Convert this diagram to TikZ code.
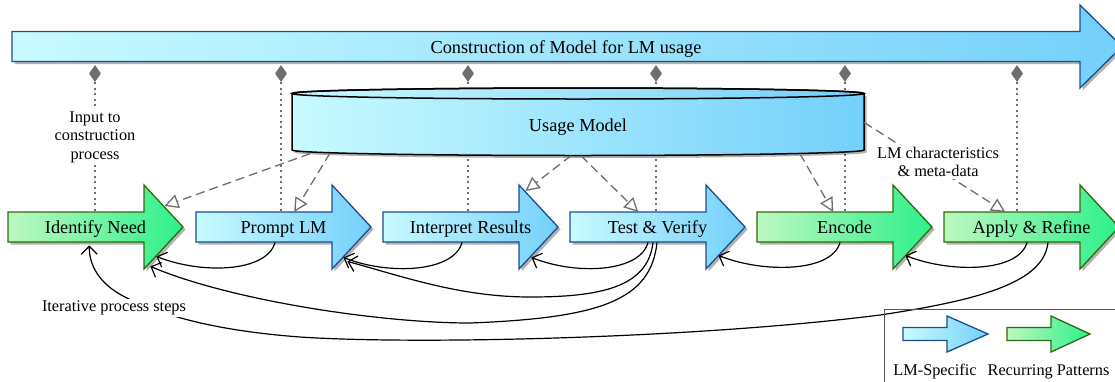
\documentclass[tikz,border=0pt]{standalone}
\usepackage{fontspec}
\setmainfont{Liberation Serif}
\usetikzlibrary{arrows.meta,calc,shadows,shapes.geometric}
\definecolor{blueL}{HTML}{C8FAFF}
\definecolor{blueR}{HTML}{74D0FA}
\definecolor{blueB}{HTML}{1B4E8E}
\definecolor{greenL}{HTML}{BDF8C0}
\definecolor{greenR}{HTML}{2DF08A}
\definecolor{greenB}{HTML}{2E6A10}
\definecolor{conn}{HTML}{6E6E6E}
\definecolor{legbox}{HTML}{555555}
\tikzset{
 shd/.style={drop shadow={shadow xshift=2.5pt,shadow yshift=-2.5pt,opacity=0.3,fill=black}},
 lmflat/.style={draw=blueB,line width=1.3pt,left color=blueL,right color=blueR},
 recflat/.style={draw=greenB,line width=1.3pt,left color=greenL,right color=greenR},
 lmarrow/.style={lmflat,shd},
 recarrow/.style={recflat,shd},
 bigtxt/.style={font=\fontsize{18.3}{22}\selectfont, inner sep=0pt},
 smalltxt/.style={font=\fontsize{16.3}{18.4}\selectfont, fill=white, inner sep=2pt},
 bodyanchor/.style={inner sep=0pt, minimum width=136pt, minimum height=30pt},
 diam/.style={diamond, fill=conn, draw=none, inner sep=0pt, minimum width=12pt, minimum height=17pt},
 dotline/.style={conn, line width=1.3pt, dash pattern=on 2pt off 3.5pt},
 dashline/.style={conn, line width=1.3pt, dash pattern=on 9pt off 5pt, -{Triangle[open,length=14pt,width=14pt]}},
 iter/.style={black, line width=1.2pt, -{Straight Barb[length=8pt,width=16pt]}},
}
\newcommand\procstep[4]{%
  \path[#3] (#2,212) -- ++(136,0) -- ++(0,-27) -- ++(39,42) -- ++(-39,42) -- ++(0,-27) -- ++(-136,0) -- cycle;
  \node[bodyanchor, anchor=north west] (#1) at (#2,212) {};
  \node[bigtxt, anchor=base] (#1-t) at (#2+87.5,233.5) {#4};
}
\begin{document}
\begin{tikzpicture}[x=1pt,y=-1pt]
\useasboundingbox (0,0) rectangle (1115,381);
% top arrow
\path[lmarrow] (12,31.5) -- (1080,31.5) -- (1080,5) -- (1122,46.5) -- (1080,88) -- (1080,61.5) -- (12,61.5) -- cycle;
\node[bigtxt, anchor=base] (cons) at (566,53.3) {Construction of Model for LM usage};
% diamonds
\node[diam] (d1) at (95,73.5) {};
\node[diam] (d2) at (281,73.5) {};
\node[diam] (d3) at (468,73.5) {};
\node[diam] (d4) at (656,73.5) {};
\node[diam] (d5) at (845,73.5) {};
\node[diam] (d6) at (1017,73.5) {};
% step arrows
\procstep{idn}{8}{recarrow}{Identify Need}
\procstep{prl}{196}{lmarrow}{Prompt LM}
\procstep{itr}{383}{lmarrow}{Interpret Results}
\procstep{tst}{570}{lmarrow}{Test \& Verify}
\procstep{enc}{757}{recarrow}{Encode}
\procstep{app}{944}{recarrow}{Apply \& Refine}
% dotted lines
\draw[dotline] (d1.south) -- (d1.south |- idn.north);
\draw[dotline] (d2.south) -- (d2.south |- prl.north);
\draw[dotline] (d3.south) -- (d3.south |- itr.north);
\draw[dotline] (d4.south) -- (d4.south |- tst.north);
\draw[dotline] (d5.south) -- (d5.south |- enc.north);
\draw[dotline] (d6.south) -- (d6.south |- app.north);
% cylinder
\path[draw=black, line width=1.5pt, left color=blueL, right color=blueR, shd]
  (292,93.5) -- (292,150) arc[start angle=180, end angle=0, x radius=286, y radius=5.5]
  -- (864,93.5) arc[start angle=360, end angle=180, x radius=286, y radius=5.5] -- cycle;
\draw[line width=1.5pt, black] (578,93.5) ellipse [x radius=286, y radius=5.5];
\node[inner sep=0pt, minimum width=572pt, minimum height=62pt] (umc) at (578,124.5) {};
\node[bigtxt, anchor=base] (um) at (578,131) {Usage Model};
% dashed arrows
\draw[dashline] ($(umc.south)+(-268,-2)$) -- ($(idn.north east)+(20,-6)$);
\draw[dashline] ($(umc.south)+(-248,-2.5)$) -- ($(prl.north)+(30,0)$);
\draw[dashline] ($(umc.south)+(-7,0)$) -- ($(itr.north east)+(6,-21)$);
\draw[dashline] ($(umc.south)+(3,0)$) -- (tst.north);
\draw[dashline] ($(umc.south)+(222,-2)$) -- ($(enc.north)+(8,0)$);
\draw[dashline] ($(umc.east)+(0,-2)$) -- ($(app.north)+(-7,0)$);
% labels on lines
\node[smalltxt, align=center] (inp) at (95,137) {Input to\\construction\\process};
\node[smalltxt, align=center] (lmc) at (938,162) {LM characteristics\\\& meta-data};
% iteration curves
\draw[iter] ($(prl.south west)+(79,0)$) .. controls +(-8,30) and +(45,18) .. ($(idn.south east)+(12,14)$);
\draw[iter] ($(itr.south west)+(79,0)$) .. controls +(-8,30) and +(45,18) .. ($(prl.south east)+(11,15)$);
\draw[iter] ($(tst.south west)+(78,0)$) .. controls +(-8,30) and +(45,18) .. ($(itr.south east)+(12,15)$);
\draw[iter] ($(enc.south west)+(83,0)$) .. controls +(-8,30) and +(45,18) .. ($(tst.south east)+(12,13)$);
\draw[iter] ($(app.south west)+(83,0)$) .. controls +(-8,30) and +(45,18) .. ($(enc.south east)+(12,13)$);
\draw[iter] ($(tst.south west)+(83,0)$) .. controls +(-5,45) and +(70,0) .. (530,297)
   .. controls +(-70,0) and +(55,15) .. ($(prl.south east)+(15,19)$);
\draw[iter] ($(tst.south west)+(87,0)$) .. controls +(-6,58) and +(130,-5) .. (470,323)
   .. controls +(-90,0) and +(80,34) .. ($(idn.south east)+(6,24)$);
\draw[iter] ($(app.south west)+(104,0)$) .. controls +(-4,40) and +(100,-15) .. (880,315)
   .. controls +(-180,23) and +(120,8) .. (300,337)
   .. controls +(-80,-6) and +(40,20) .. (125,297)
   .. controls +(-20,-10) and +(0,25) .. ($(idn.south)+(13,3)$);
\node[smalltxt, anchor=base] (itl) at (114,311.7) {Iterative process steps};
% legend
\draw[legbox, line width=0.9pt] (884,309.5) rectangle (1120,386);
\path[lmflat] (903,327.5) -- (947,327.5) -- (947,316) -- (988,334) -- (947,352) -- (947,340.5) -- (903,340.5) -- cycle;
\path[recflat] (1007,327.5) -- (1051,327.5) -- (1051,316) -- (1090,334) -- (1051,352) -- (1051,340.5) -- (1007,340.5) -- cycle;
\node[smalltxt, fill=none, anchor=base] (lg1) at (935,375.5) {LM-Specific};
\node[smalltxt, fill=none, anchor=base] (lg2) at (1048.5,375.5) {Recurring Patterns};
\end{tikzpicture}
\end{document}
